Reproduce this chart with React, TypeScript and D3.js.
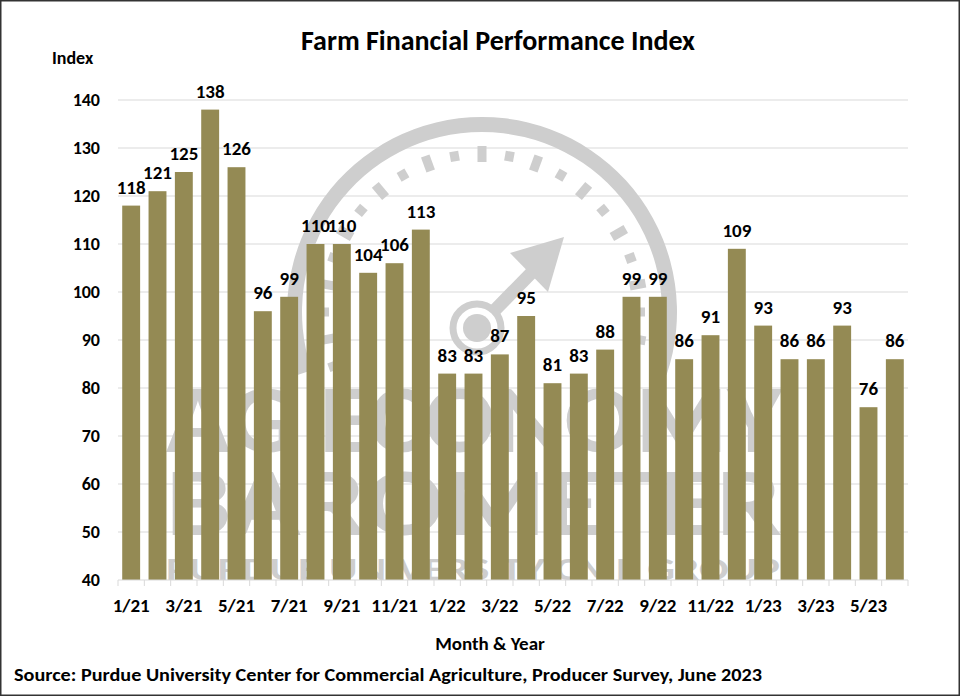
import React, { useEffect, useRef } from 'react';
import * as d3 from 'd3';

const months = [
  '1/21', '2/21', '3/21', '4/21', '5/21', '6/21', '7/21', '8/21', '9/21', '10/21', '11/21', '12/21',
  '1/22', '2/22', '3/22', '4/22', '5/22', '6/22', '7/22', '8/22', '9/22', '10/22', '11/22', '12/22',
  '1/23', '2/23', '3/23', '4/23', '5/23', '6/23',
];
const indexValues = [
  118, 121, 125, 138, 126, 96, 99, 110, 110, 104, 106, 113,
  83, 83, 87, 95, 81, 83, 88, 99, 99, 86, 91, 109,
  93, 86, 86, 93, 76, 86,
];
const yTicks = [40, 50, 60, 70, 80, 90, 100, 110, 120, 130, 140];

const FONT = 'Carlito, Calibri, Lato, "Liberation Sans", sans-serif';
const WM = '#cecece';

const App: React.FC = () => {
  const svgRef = useRef<SVGSVGElement | null>(null);

  useEffect(() => {
    document.body.style.margin = '0';
    if (!svgRef.current) return;

    const width = 960;
    const height = 696;
    const margin = { top: 100, right: 52, bottom: 116, left: 118 };

    const x = d3.scaleBand()
      .domain(months)
      .range([margin.left, width - margin.right])
      .paddingInner(0.32)
      .paddingOuter(0.16);

    const y = d3.scaleLinear()
      .domain([40, 140])
      .range([height - margin.bottom, margin.top]);

    const svg = d3.select(svgRef.current);
    svg.selectAll('*').remove();

    svg.append('rect')
      .attr('x', 0.75).attr('y', 0.75)
      .attr('width', width - 1.5).attr('height', height - 1.5)
      .attr('fill', '#fff')
      .attr('stroke', '#333')
      .attr('stroke-width', 1.5);

    // gridlines
    svg.append('g')
      .selectAll('line')
      .data(yTicks.slice(1))
      .join('line')
      .attr('x1', margin.left)
      .attr('x2', width - margin.right)
      .attr('y1', d => y(d))
      .attr('y2', d => y(d))
      .attr('stroke', '#d9d9d9')
      .attr('stroke-width', 1);

    // watermark logo (gauge + wordmark)
    const wm = svg.append('g').attr('fill', WM).attr('stroke', 'none');
    const cx = 482, cy = 312;
    wm.append('path')
      .attr('d', d3.arc()({ innerRadius: 180, outerRadius: 195, startAngle: -1.9, endAngle: 1.9 }) as string)
      .attr('transform', `translate(${cx},${cy})`);
    d3.range(-11, 12).forEach(i => {
      const len = i % 2 === 0 ? 16 : 10;
      wm.append('rect')
        .attr('x', -4.5).attr('y', -158 - len / 2)
        .attr('width', 9).attr('height', len)
        .attr('transform', `translate(${cx},${cy}) rotate(${i * 10})`);
    });
    wm.append('circle').attr('cx', 477).attr('cy', 328).attr('r', 24)
      .attr('fill', 'none').attr('stroke', WM).attr('stroke-width', 7);
    wm.append('circle').attr('cx', 477).attr('cy', 328).attr('r', 14);
    wm.append('line').attr('x1', 494).attr('y1', 311).attr('x2', 540).attr('y2', 264)
      .attr('stroke', WM).attr('stroke-width', 13);
    wm.append('path').attr('d', 'M564,237 L510,253 L548,292 Z');
    wm.append('text').attr('x', 166).attr('y', 452)
      .attr('textLength', 616).attr('lengthAdjust', 'spacingAndGlyphs')
      .attr('font-family', FONT).attr('font-weight', 700).attr('font-size', 98)
      .text('AG ECONOMY');
    wm.append('text').attr('x', 166).attr('y', 535)
      .attr('textLength', 616).attr('lengthAdjust', 'spacingAndGlyphs')
      .attr('font-family', FONT).attr('font-weight', 700).attr('font-size', 98)
      .text('BAROMETER');
    wm.append('text').attr('x', 166).attr('y', 580)
      .attr('textLength', 614).attr('lengthAdjust', 'spacingAndGlyphs')
      .attr('font-family', FONT).attr('font-weight', 700).attr('font-size', 32)
      .text('PURDUE UNIVERSITY   CME GROUP');

    // bars
    svg.append('g')
      .selectAll('rect')
      .data(indexValues)
      .join('rect')
      .attr('x', (_, i) => x(months[i])!)
      .attr('y', d => y(d))
      .attr('width', x.bandwidth())
      .attr('height', d => y(40) - y(d))
      .attr('fill', '#948a54');

    // data labels
    svg.append('g')
      .selectAll('text')
      .data(indexValues)
      .join('text')
      .attr('x', (_, i) => x(months[i])! + x.bandwidth() / 2)
      .attr('y', d => y(d) - 12)
      .attr('text-anchor', 'middle')
      .attr('font-family', FONT)
      .attr('font-weight', 700)
      .attr('font-size', 19)
      .attr('fill', '#000')
      .text(d => d);

    // x axis baseline and ticks
    const axis = svg.append('g');
    axis.append('line')
      .attr('x1', margin.left).attr('x2', width - margin.right)
      .attr('y1', y(40)).attr('y2', y(40))
      .attr('stroke', '#d9d9d9');
    axis.selectAll('line.tick')
      .data(d3.range(months.length + 1))
      .join('line')
      .attr('class', 'tick')
      .attr('x1', i => margin.left + i * x.step())
      .attr('x2', i => margin.left + i * x.step())
      .attr('y1', y(40))
      .attr('y2', y(40) + 6)
      .attr('stroke', '#d9d9d9');
    axis.selectAll('text')
      .data(months.filter((_, i) => i % 2 === 0))
      .join('text')
      .attr('x', d => x(d)! + x.bandwidth() / 2)
      .attr('y', y(40) + 32)
      .attr('text-anchor', 'middle')
      .attr('font-family', FONT)
      .attr('font-weight', 700)
      .attr('font-size', 19)
      .text(d => d);

    // y axis labels
    svg.append('g')
      .selectAll('text')
      .data(yTicks)
      .join('text')
      .attr('x', 100)
      .attr('y', d => y(d))
      .attr('dy', '0.35em')
      .attr('text-anchor', 'end')
      .attr('font-family', FONT)
      .attr('font-weight', 700)
      .attr('font-size', 18)
      .text(d => d);

    svg.append('text')
      .attr('x', 498).attr('y', 50)
      .attr('text-anchor', 'middle')
      .attr('font-family', FONT).attr('font-weight', 700).attr('font-size', 28)
      .text('Farm Financial Performance Index');

    svg.append('text')
      .attr('x', 52).attr('y', 64)
      .attr('font-family', FONT).attr('font-weight', 700).attr('font-size', 18)
      .text('Index');

    svg.append('text')
      .attr('x', 490).attr('y', 650)
      .attr('text-anchor', 'middle')
      .attr('font-family', FONT).attr('font-weight', 700).attr('font-size', 19)
      .text('Month & Year');

    svg.append('text')
      .attr('x', 14).attr('y', 681)
      .attr('textLength', 748).attr('lengthAdjust', 'spacingAndGlyphs')
      .attr('font-family', FONT).attr('font-weight', 700).attr('font-size', 17.5)
      .text('Source: Purdue University Center for Commercial Agriculture, Producer Survey, June 2023');
  }, []);

  return <svg ref={svgRef} width={960} height={696} style={{ display: 'block' }} />;
};

export default App;
